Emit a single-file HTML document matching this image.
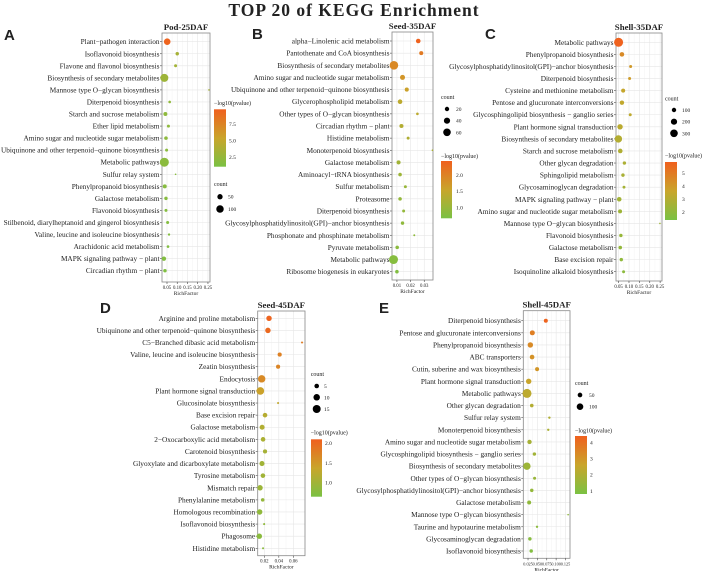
<!DOCTYPE html>
<html><head><meta charset="utf-8"><style>
html,body{margin:0;padding:0;background:#fff;}
svg{display:block;}
text{font-family:"Liberation Serif",serif;fill:#222;}
</style></head><body>
<svg id="fig" width="708" height="571" viewBox="0 0 708 571" xmlns="http://www.w3.org/2000/svg">
<defs>
<linearGradient id="cbar" x1="0" y1="1" x2="0" y2="0">
<stop offset="0" stop-color="#7ac143"/><stop offset="0.5" stop-color="#c9a52b"/><stop offset="1" stop-color="#f0601e"/>
</linearGradient>
</defs>
<text x="354" y="16" text-anchor="middle" font-size="17.5" font-weight="bold" letter-spacing="1">TOP 20 of KEGG Enrichment</text>
<text x="4" y="40" font-family="Liberation Sans, sans-serif" font-size="15" font-weight="bold" style="font-family:'Liberation Sans',sans-serif">A</text>
<text x="252" y="39" font-size="15" font-weight="bold" style="font-family:'Liberation Sans',sans-serif">B</text>
<text x="485" y="39" font-size="15" font-weight="bold" style="font-family:'Liberation Sans',sans-serif">C</text>
<text x="100" y="313" font-size="15" font-weight="bold" style="font-family:'Liberation Sans',sans-serif">D</text>
<text x="379" y="313" font-size="15" font-weight="bold" style="font-family:'Liberation Sans',sans-serif">E</text>
</svg>
<script>
// ---- Panel A data ----
const aLabels=["Plant\u2212pathogen interaction","Isoflavonoid biosynthesis","Flavone and flavonol biosynthesis","Biosynthesis of secondary metabolites","Mannose type O\u2212glycan biosynthesis","Diterpenoid biosynthesis","Starch and sucrose metabolism","Ether lipid metabolism","Amino sugar and nucleotide sugar metabolism","Ubiquinone and other terpenoid\u2212quinone biosynthesis","Metabolic pathways","Sulfur relay system","Phenylpropanoid biosynthesis","Galactose metabolism","Flavonoid biosynthesis","Stilbenoid, diarylheptanoid and gingerol biosynthesis","Valine, leucine and isoleucine biosynthesis","Arachidonic acid metabolism","MAPK signaling pathway \u2212 plant","Circadian rhythm \u2212 plant"];
const aRich=[0.051,0.100,0.092,0.037,0.255,0.063,0.042,0.057,0.045,0.048,0.037,0.092,0.039,0.045,0.045,0.053,0.060,0.055,0.035,0.040];
const aCount=[77,21,16,114,5,12,28,16,23,16,144,5,28,21,16,16,10,12,34,21];
const aLogP=[9.5,3.5,3.3,3.0,3.5,2.3,2.2,2.2,2.1,2.0,2.0,1.9,1.8,1.8,1.7,1.6,1.6,1.5,1.5,1.4];
const aTicks=[0.05,0.10,0.15,0.20,0.25];
const aTickLabels=["0.05","0.10","0.15","0.20","0.25"];
const aSizeLegend=[50,100];
const aColorTicks=[7.5,5.0,2.5];
// ---- Panel B data ----
const bLabels=["alpha\u2212Linolenic acid metabolism","Pantothenate and CoA biosynthesis","Biosynthesis of secondary metabolites","Amino sugar and nucleotide sugar metabolism","Ubiquinone and other terpenoid\u2212quinone biosynthesis","Glycerophospholipid metabolism","Other types of O\u2212glycan biosynthesis","Circadian rhythm \u2212 plant","Histidine metabolism","Monoterpenoid biosynthesis","Galactose metabolism","Aminoacyl\u2212tRNA biosynthesis","Sulfur metabolism","Proteasome","Diterpenoid biosynthesis","Glycosylphosphatidylinositol(GPI)\u2212anchor biosynthesis","Phosphonate and phosphinate metabolism","Pyruvate metabolism","Metabolic pathways","Ribosome biogenesis in eukaryotes"];
const bRich=[0.0256,0.0278,0.0078,0.0141,0.0172,0.0123,0.0250,0.0133,0.0182,0.0360,0.0112,0.0123,0.0162,0.0123,0.0149,0.0141,0.0227,0.0102,0.0075,0.0100];
const bCount=[22,17,77,26,17,22,7,17,9,3,17,13,9,13,9,12,4,13,84,13];
const bLogP=[2.4,2.1,1.9,1.75,1.6,1.4,1.4,1.3,1.25,1.2,1.1,1.05,1.0,0.95,0.95,0.9,0.9,0.85,0.8,0.75];
const bTicks=[0.01,0.02,0.03];
const bTickLabels=["0.01","0.02","0.03"];
const bSizeLegend=[20,40,60];
const bColorTicks=[2.0,1.5,1.0];
// ---- Panel C data ----
const cLabels=["Metabolic pathways","Phenylpropanoid biosynthesis","Glycosylphosphatidylinositol(GPI)\u2212anchor biosynthesis","Diterpenoid biosynthesis","Cysteine and methionine metabolism","Pentose and glucuronate interconversions","Glycosphingolipid biosynthesis \u2212 ganglio series","Plant hormone signal transduction","Biosynthesis of secondary metabolites","Starch and sucrose metabolism","Other glycan degradation","Sphingolipid metabolism","Glycosaminoglycan degradation","MAPK signaling pathway \u2212 plant","Amino sugar and nucleotide sugar metabolism","Mannose type O\u2212glycan biosynthesis","Flavonoid biosynthesis","Galactose metabolism","Base excision repair","Isoquinoline alkaloid biosynthesis"];
const cRich=[0.050,0.066,0.108,0.103,0.072,0.066,0.106,0.057,0.049,0.058,0.078,0.071,0.076,0.053,0.057,0.249,0.061,0.058,0.063,0.074];
const cCount=[418,109,46,46,83,100,46,151,283,109,60,60,46,109,83,13,60,67,60,46];
const cLogP=[5.8,4.5,4.0,3.9,3.5,3.4,3.3,3.2,3.0,2.9,2.8,2.7,2.6,2.5,2.4,2.4,2.2,2.1,2.0,1.9];
const cTicks=[0.05,0.10,0.15,0.20,0.25];
const cTickLabels=["0.05","0.10","0.15","0.20","0.25"];
const cSizeLegend=[100,200,300];
const cColorTicks=[5,4,3,2];
// ---- Panel D data ----
const dLabels=["Arginine and proline metabolism","Ubiquinone and other terpenoid\u2212quinone biosynthesis","C5\u2212Branched dibasic acid metabolism","Valine, leucine and isoleucine biosynthesis","Zeatin biosynthesis","Endocytosis","Plant hormone signal transduction","Glucosinolate biosynthesis","Base excision repair","Galactose metabolism","2\u2212Oxocarboxylic acid metabolism","Carotenoid biosynthesis","Glyoxylate and dicarboxylate metabolism","Tyrosine metabolism","Mismatch repair","Phenylalanine metabolism","Homologous recombination","Isoflavonoid biosynthesis","Phagosome","Histidine metabolism"];
const dRich=[0.0265,0.0250,0.0720,0.0412,0.0390,0.0164,0.0145,0.0390,0.0210,0.0170,0.0183,0.0210,0.0168,0.0181,0.0141,0.0178,0.0136,0.0198,0.0131,0.0183];
const dCount=[7,7,1,4,4,13,14,1,5,6,5,4,6,5,7,3,7,1,7,1];
const dLogP=[2.05,2.0,1.8,1.75,1.7,1.65,1.4,1.3,1.2,1.15,1.1,1.05,1.0,1.0,0.95,0.9,0.85,0.85,0.8,0.8];
const dTicks=[0.02,0.04,0.06];
const dTickLabels=["0.02","0.04","0.06"];
const dSizeLegend=[5,10,15];
const dColorTicks=[2.0,1.5,1.0];
// ---- Panel E data ----
const eLabels=["Diterpenoid biosynthesis","Pentose and glucuronate interconversions","Phenylpropanoid biosynthesis","ABC transporters","Cutin, suberine and wax biosynthesis","Plant hormone signal transduction","Metabolic pathways","Other glycan degradation","Sulfur relay system","Monoterpenoid biosynthesis","Amino sugar and nucleotide sugar metabolism","Glycosphingolipid biosynthesis \u2212 ganglio series","Biosynthesis of secondary metabolites","Other types of O\u2212glycan biosynthesis","Glycosylphosphatidylinositol(GPI)\u2212anchor biosynthesis","Galactose metabolism","Mannose type O\u2212glycan biosynthesis","Taurine and hypotaurine metabolism","Glycosaminoglycan degradation","Isoflavonoid biosynthesis"];
const eRich=[0.0725,0.0365,0.0312,0.0358,0.0492,0.0268,0.0223,0.0350,0.0820,0.0790,0.0290,0.0420,0.0220,0.0425,0.0350,0.0280,0.1320,0.0490,0.0300,0.0335];
const eCount=[37,57,67,49,37,67,186,30,13,13,44,27,126,21,27,37,6,13,27,27];
const eLogP=[4.3,3.6,3.3,3.1,3.0,2.6,2.3,2.1,2.0,1.9,1.8,1.7,1.6,1.5,1.4,1.3,1.3,1.2,1.1,1.0];
const eTicks=[0.025,0.050,0.075,0.100,0.125];
const eTickLabels=["0.025","0.050","0.075","0.100","0.125"];
const eSizeLegend=[50,100];
const eColorTicks=[4,3,2,1];

// ---- layout (pixels) ----
const panels=[
 {id:"a",title:"Pod-25DAF",labels:aLabels,rich:aRich,count:aCount,logp:aLogP,ticks:aTicks,tickLabels:aTickLabels,sizeLeg:aSizeLegend,colTicks:aColorTicks,
  box:[162,33,210,282],rows:[41.7,270.7],dom:[0.0256,0.26],k:0.375,
  size:{tx:214,ty:184,dx:220,ys:[196.7,209],lx:228},col:{tx:214,ty:103,bx:214,bw:12,by0:109.3,by1:166.7,lx:229,dom:[1.06,9.75]}},
 {id:"b",title:"Seed-35DAF",labels:bLabels,rich:bRich,count:bCount,logp:bLogP,ticks:bTicks,tickLabels:bTickLabels,sizeLeg:bSizeLegend,colTicks:bColorTicks,
  box:[392,32,433,280],rows:[41,271.7],dom:[0.0064,0.0364],k:0.49,
  size:{tx:441,ty:97,dx:447,ys:[109,120.7,132.3],lx:456},col:{tx:441,ty:156,bx:441,bw:11,by0:161,by1:218.3,lx:456,dom:[0.66,2.43]}},
 {id:"c",title:"Shell-35DAF",labels:cLabels,rich:cRich,count:cCount,logp:cLogP,ticks:cTicks,tickLabels:cTickLabels,sizeLeg:cSizeLegend,colTicks:cColorTicks,
  box:[616,33,662,281],rows:[42.3,271.7],dom:[0.0375,0.259],k:0.22,
  size:{tx:665,ty:98.7,dx:674,ys:[110,121.7,133.3],lx:682},col:{tx:665,ty:155.7,bx:665,bw:12,by0:162,by1:220,lx:682,dom:[1.38,5.85]}},
 {id:"d",title:"Seed-45DAF",labels:dLabels,rich:dRich,count:dCount,logp:dLogP,ticks:dTicks,tickLabels:dTickLabels,sizeLeg:dSizeLegend,colTicks:dColorTicks,
  box:[257.7,311,305,555.7],rows:[318.3,548.3],dom:[0.0109,0.0761],k:1.03,
  size:{tx:310.7,ty:374,dx:316.7,ys:[386,397.3,409],lx:324},col:{tx:310.7,ty:432.7,bx:311,bw:11,by0:439.3,by1:496.7,lx:325,dom:[0.65,2.09]}},
 {id:"e",title:"Shell-45DAF",labels:eLabels,rich:eRich,count:eCount,logp:eLogP,ticks:eTicks,tickLabels:eTickLabels,sizeLeg:eSizeLegend,colTicks:eColorTicks,
  box:[523.3,310.7,570,558.3],rows:[320.7,551],dom:[0.0124,0.137],k:0.33,
  size:{tx:575,ty:383,dx:580,ys:[395,406.7],lx:589},col:{tx:575,ty:430.7,bx:575,bw:12,by0:436,by1:494,lx:590,dom:[0.8,4.4]}}
];
const NS="http://www.w3.org/2000/svg";
const svg=document.getElementById('fig');
function mk(tag,attrs,parent){const e=document.createElementNS(NS,tag);for(const k in attrs)e.setAttribute(k,attrs[k]);(parent||svg).appendChild(e);return e;}
function lerp(a,b,t){return a+(b-a)*t;}
function hex(h){return [parseInt(h.substr(1,2),16),parseInt(h.substr(3,2),16),parseInt(h.substr(5,2),16)];}
const stops=[hex("#7ac143"),hex("#c9a52b"),hex("#f0601e")];
function colorOf(t){t=Math.max(0,Math.min(1,t));let a,b,u;if(t<0.5){a=stops[0];b=stops[1];u=t/0.5;}else{a=stops[1];b=stops[2];u=(t-0.5)/0.5;}
 return "rgb("+[0,1,2].map(i=>Math.round(lerp(a[i],b[i],u))).join(",")+")";}

panels.forEach(p=>{
 const [x0,y0,x1,y1]=p.box;
 const xS=v=>x0+(v-p.dom[0])/(p.dom[1]-p.dom[0])*(x1-x0);
 const n=p.labels.length;
 const yS=i=>p.rows[0]+i*(p.rows[1]-p.rows[0])/(n-1);
 const cS=v=>(v-p.col.dom[0])/(p.col.dom[1]-p.col.dom[0]);
 const g=mk('g',{});
 
 
 const bg=mk('rect',{x:x0,y:y0,width:x1-x0,height:y1-y0,fill:"#fff"},g);
 
 
 // minor/major vertical grid
 for(let i=0;i<p.ticks.length;i++){
  const xv=xS(p.ticks[i]);
  const gl=mk('line',{x1:xv,x2:xv,y1:y0,y2:y1,stroke:"#e6e6e6","stroke-width":0.6},g);
  
  
  if(i<p.ticks.length-1){const xm=xS((p.ticks[i]+p.ticks[i+1])/2);
   const ml=mk('line',{x1:xm,x2:xm,y1:y0,y2:y1,stroke:"#f0f0f0","stroke-width":0.4},g);
   
   }
 }
 const step=p.ticks[1]-p.ticks[0];
 const pre=p.ticks[0]-step/2; if(pre>p.dom[0]){const xm=xS(pre);const ml=mk('line',{x1:xm,x2:xm,y1:y0,y2:y1,stroke:"#f0f0f0","stroke-width":0.4},g);}
 for(let i=0;i<n;i++){
  const yv=yS(i);
  const hl=mk('line',{x1:x0,x2:x1,y1:yv,y2:yv,stroke:"#e6e6e6","stroke-width":0.6},g);
  
  
  const tk=mk('line',{x1:x0-2,x2:x0,y1:yv,y2:yv,stroke:"#444","stroke-width":0.6},g);
  
  
  const t=mk('text',{x:x0-2.5,y:yv+2.5,"text-anchor":"end","font-size":7.3},g);
  t.textContent=p.labels[i];
  
  
 }
 const border=mk('rect',{x:x0,y:y0,width:x1-x0,height:y1-y0,fill:"none",stroke:"#888","stroke-width":0.8},g);
 
 
 // points
 for(let i=0;i<n;i++){
  const c=mk('circle',{cx:xS(p.rich[i]),cy:yS(i),r:p.k*Math.sqrt(p.count[i]),fill:colorOf(cS(p.logp[i]))},g);
  
  
 }
 // x ticks
 for(let i=0;i<p.ticks.length;i++){
  const xv=xS(p.ticks[i]);
  const tk=mk('line',{x1:xv,x2:xv,y1:y1,y2:y1+2,stroke:"#444","stroke-width":0.6},g);
  
  
  const t=mk('text',{x:xv,y:y1+7,"text-anchor":"middle","font-size":p.id==="e"?4.2:4.8,fill:"#444"},g);
  t.textContent=p.tickLabels[i];
  
  
 }
 const xt=mk('text',{x:(x0+x1)/2,y:y1+13,"text-anchor":"middle","font-size":5.5,fill:"#444"},g);
 xt.textContent="RichFactor";
 
 
 const tt=mk('text',{x:(x0+x1)/2,y:y0-3,"text-anchor":"middle","font-size":8.8,"font-weight":"bold"},g);
 tt.textContent=p.title;
 
 
 // size legend
 const st=mk('text',{x:p.size.tx,y:p.size.ty+2,"font-size":6},g);
 st.textContent="count";
 
 
 p.sizeLeg.forEach((v,j)=>{
  const c=mk('circle',{cx:p.size.dx,cy:p.size.ys[j],r:p.k*Math.sqrt(v),fill:"#000"},g);
  
  
  const t=mk('text',{x:p.size.lx,y:p.size.ys[j]+2,"font-size":5.5},g);
  t.textContent=String(v);
  
  
 });
 // color legend
 const ct=mk('text',{x:p.col.tx,y:p.col.ty+2,"font-size":6},g);
 ct.textContent="\u2212log10(pvalue)";
 
 
 const cb=mk('rect',{x:p.col.bx,y:p.col.by0,width:p.col.bw,height:p.col.by1-p.col.by0,fill:"url(#cbar)"},g);
 
 
 p.colTicks.forEach(v=>{
  const yv=p.col.by1-cS(v)*(p.col.by1-p.col.by0);
  const t=mk('text',{x:p.col.lx,y:yv+2,"font-size":5.5},g);
  t.textContent=(p.id==="c"||p.id==="e")?String(v):v.toFixed(1);
  
  
 });
});
</script>
</body></html>
